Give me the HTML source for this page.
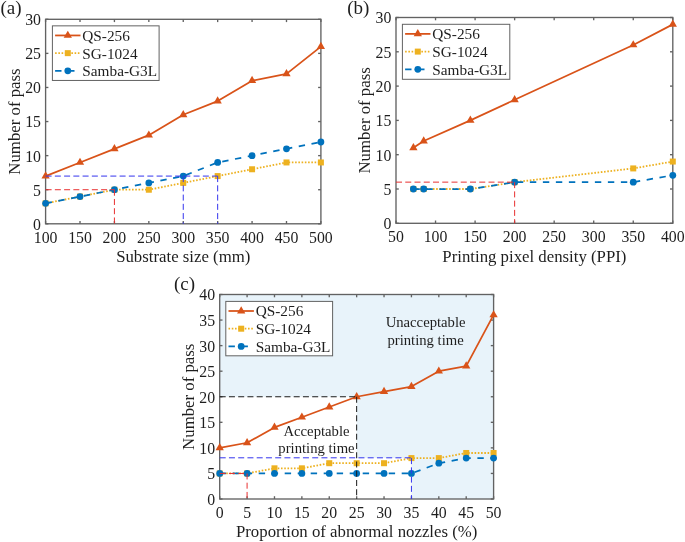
<!DOCTYPE html>
<html><head><meta charset="utf-8"><style>
html,body{margin:0;padding:0;background:#fff;}
body{width:685px;height:542px;overflow:hidden;}
svg{display:block;will-change:transform;}
text{font-family:'Liberation Serif', serif;fill:#1e1e1e;}
</style></head><body>
<svg width="685" height="542" viewBox="0 0 685 542">
<path d="M219.70 294.50 L493.60 294.50 L493.60 499.00 L411.43 499.00 L411.43 458.10 L356.65 458.10 L356.65 396.75 L219.70 396.75Z" fill="#E8F3FA"/>
<rect x="45.60" y="19.30" width="275.30" height="204.50" fill="none" stroke="#626262" stroke-width="1.35"/>
<line x1="45.60" y1="223.80" x2="45.60" y2="221.00" stroke="#626262" stroke-width="1.35"/>
<line x1="45.60" y1="19.30" x2="45.60" y2="22.10" stroke="#626262" stroke-width="1.35"/>
<line x1="80.01" y1="223.80" x2="80.01" y2="221.00" stroke="#626262" stroke-width="1.35"/>
<line x1="80.01" y1="19.30" x2="80.01" y2="22.10" stroke="#626262" stroke-width="1.35"/>
<line x1="114.42" y1="223.80" x2="114.42" y2="221.00" stroke="#626262" stroke-width="1.35"/>
<line x1="114.42" y1="19.30" x2="114.42" y2="22.10" stroke="#626262" stroke-width="1.35"/>
<line x1="148.84" y1="223.80" x2="148.84" y2="221.00" stroke="#626262" stroke-width="1.35"/>
<line x1="148.84" y1="19.30" x2="148.84" y2="22.10" stroke="#626262" stroke-width="1.35"/>
<line x1="183.25" y1="223.80" x2="183.25" y2="221.00" stroke="#626262" stroke-width="1.35"/>
<line x1="183.25" y1="19.30" x2="183.25" y2="22.10" stroke="#626262" stroke-width="1.35"/>
<line x1="217.66" y1="223.80" x2="217.66" y2="221.00" stroke="#626262" stroke-width="1.35"/>
<line x1="217.66" y1="19.30" x2="217.66" y2="22.10" stroke="#626262" stroke-width="1.35"/>
<line x1="252.07" y1="223.80" x2="252.07" y2="221.00" stroke="#626262" stroke-width="1.35"/>
<line x1="252.07" y1="19.30" x2="252.07" y2="22.10" stroke="#626262" stroke-width="1.35"/>
<line x1="286.49" y1="223.80" x2="286.49" y2="221.00" stroke="#626262" stroke-width="1.35"/>
<line x1="286.49" y1="19.30" x2="286.49" y2="22.10" stroke="#626262" stroke-width="1.35"/>
<line x1="320.90" y1="223.80" x2="320.90" y2="221.00" stroke="#626262" stroke-width="1.35"/>
<line x1="320.90" y1="19.30" x2="320.90" y2="22.10" stroke="#626262" stroke-width="1.35"/>
<line x1="45.60" y1="223.80" x2="48.40" y2="223.80" stroke="#626262" stroke-width="1.35"/>
<line x1="320.90" y1="223.80" x2="318.10" y2="223.80" stroke="#626262" stroke-width="1.35"/>
<line x1="45.60" y1="189.72" x2="48.40" y2="189.72" stroke="#626262" stroke-width="1.35"/>
<line x1="320.90" y1="189.72" x2="318.10" y2="189.72" stroke="#626262" stroke-width="1.35"/>
<line x1="45.60" y1="155.63" x2="48.40" y2="155.63" stroke="#626262" stroke-width="1.35"/>
<line x1="320.90" y1="155.63" x2="318.10" y2="155.63" stroke="#626262" stroke-width="1.35"/>
<line x1="45.60" y1="121.55" x2="48.40" y2="121.55" stroke="#626262" stroke-width="1.35"/>
<line x1="320.90" y1="121.55" x2="318.10" y2="121.55" stroke="#626262" stroke-width="1.35"/>
<line x1="45.60" y1="87.47" x2="48.40" y2="87.47" stroke="#626262" stroke-width="1.35"/>
<line x1="320.90" y1="87.47" x2="318.10" y2="87.47" stroke="#626262" stroke-width="1.35"/>
<line x1="45.60" y1="53.38" x2="48.40" y2="53.38" stroke="#626262" stroke-width="1.35"/>
<line x1="320.90" y1="53.38" x2="318.10" y2="53.38" stroke="#626262" stroke-width="1.35"/>
<line x1="45.60" y1="19.30" x2="48.40" y2="19.30" stroke="#626262" stroke-width="1.35"/>
<line x1="320.90" y1="19.30" x2="318.10" y2="19.30" stroke="#626262" stroke-width="1.35"/>
<text x="45.60" y="242.80" font-size="15.8" text-anchor="middle">100</text>
<text x="80.01" y="242.80" font-size="15.8" text-anchor="middle">150</text>
<text x="114.42" y="242.80" font-size="15.8" text-anchor="middle">200</text>
<text x="148.84" y="242.80" font-size="15.8" text-anchor="middle">250</text>
<text x="183.25" y="242.80" font-size="15.8" text-anchor="middle">300</text>
<text x="217.66" y="242.80" font-size="15.8" text-anchor="middle">350</text>
<text x="252.07" y="242.80" font-size="15.8" text-anchor="middle">400</text>
<text x="286.49" y="242.80" font-size="15.8" text-anchor="middle">450</text>
<text x="320.90" y="242.80" font-size="15.8" text-anchor="middle">500</text>
<text x="41.00" y="229.70" font-size="15.8" text-anchor="end">0</text>
<text x="41.00" y="195.62" font-size="15.8" text-anchor="end">5</text>
<text x="41.00" y="161.53" font-size="15.8" text-anchor="end">10</text>
<text x="41.00" y="127.45" font-size="15.8" text-anchor="end">15</text>
<text x="41.00" y="93.37" font-size="15.8" text-anchor="end">20</text>
<text x="41.00" y="59.28" font-size="15.8" text-anchor="end">25</text>
<text x="41.00" y="25.20" font-size="15.8" text-anchor="end">30</text>
<rect x="396.00" y="17.50" width="276.80" height="205.80" fill="none" stroke="#626262" stroke-width="1.35"/>
<line x1="396.00" y1="223.30" x2="396.00" y2="220.50" stroke="#626262" stroke-width="1.35"/>
<line x1="396.00" y1="17.50" x2="396.00" y2="20.30" stroke="#626262" stroke-width="1.35"/>
<line x1="435.54" y1="223.30" x2="435.54" y2="220.50" stroke="#626262" stroke-width="1.35"/>
<line x1="435.54" y1="17.50" x2="435.54" y2="20.30" stroke="#626262" stroke-width="1.35"/>
<line x1="475.09" y1="223.30" x2="475.09" y2="220.50" stroke="#626262" stroke-width="1.35"/>
<line x1="475.09" y1="17.50" x2="475.09" y2="20.30" stroke="#626262" stroke-width="1.35"/>
<line x1="514.63" y1="223.30" x2="514.63" y2="220.50" stroke="#626262" stroke-width="1.35"/>
<line x1="514.63" y1="17.50" x2="514.63" y2="20.30" stroke="#626262" stroke-width="1.35"/>
<line x1="554.17" y1="223.30" x2="554.17" y2="220.50" stroke="#626262" stroke-width="1.35"/>
<line x1="554.17" y1="17.50" x2="554.17" y2="20.30" stroke="#626262" stroke-width="1.35"/>
<line x1="593.71" y1="223.30" x2="593.71" y2="220.50" stroke="#626262" stroke-width="1.35"/>
<line x1="593.71" y1="17.50" x2="593.71" y2="20.30" stroke="#626262" stroke-width="1.35"/>
<line x1="633.26" y1="223.30" x2="633.26" y2="220.50" stroke="#626262" stroke-width="1.35"/>
<line x1="633.26" y1="17.50" x2="633.26" y2="20.30" stroke="#626262" stroke-width="1.35"/>
<line x1="672.80" y1="223.30" x2="672.80" y2="220.50" stroke="#626262" stroke-width="1.35"/>
<line x1="672.80" y1="17.50" x2="672.80" y2="20.30" stroke="#626262" stroke-width="1.35"/>
<line x1="396.00" y1="223.30" x2="398.80" y2="223.30" stroke="#626262" stroke-width="1.35"/>
<line x1="672.80" y1="223.30" x2="670.00" y2="223.30" stroke="#626262" stroke-width="1.35"/>
<line x1="396.00" y1="189.00" x2="398.80" y2="189.00" stroke="#626262" stroke-width="1.35"/>
<line x1="672.80" y1="189.00" x2="670.00" y2="189.00" stroke="#626262" stroke-width="1.35"/>
<line x1="396.00" y1="154.70" x2="398.80" y2="154.70" stroke="#626262" stroke-width="1.35"/>
<line x1="672.80" y1="154.70" x2="670.00" y2="154.70" stroke="#626262" stroke-width="1.35"/>
<line x1="396.00" y1="120.40" x2="398.80" y2="120.40" stroke="#626262" stroke-width="1.35"/>
<line x1="672.80" y1="120.40" x2="670.00" y2="120.40" stroke="#626262" stroke-width="1.35"/>
<line x1="396.00" y1="86.10" x2="398.80" y2="86.10" stroke="#626262" stroke-width="1.35"/>
<line x1="672.80" y1="86.10" x2="670.00" y2="86.10" stroke="#626262" stroke-width="1.35"/>
<line x1="396.00" y1="51.80" x2="398.80" y2="51.80" stroke="#626262" stroke-width="1.35"/>
<line x1="672.80" y1="51.80" x2="670.00" y2="51.80" stroke="#626262" stroke-width="1.35"/>
<line x1="396.00" y1="17.50" x2="398.80" y2="17.50" stroke="#626262" stroke-width="1.35"/>
<line x1="672.80" y1="17.50" x2="670.00" y2="17.50" stroke="#626262" stroke-width="1.35"/>
<text x="396.00" y="242.30" font-size="15.8" text-anchor="middle">50</text>
<text x="435.54" y="242.30" font-size="15.8" text-anchor="middle">100</text>
<text x="475.09" y="242.30" font-size="15.8" text-anchor="middle">150</text>
<text x="514.63" y="242.30" font-size="15.8" text-anchor="middle">200</text>
<text x="554.17" y="242.30" font-size="15.8" text-anchor="middle">250</text>
<text x="593.71" y="242.30" font-size="15.8" text-anchor="middle">300</text>
<text x="633.26" y="242.30" font-size="15.8" text-anchor="middle">350</text>
<text x="672.80" y="242.30" font-size="15.8" text-anchor="middle">400</text>
<text x="391.40" y="229.20" font-size="15.8" text-anchor="end">0</text>
<text x="391.40" y="194.90" font-size="15.8" text-anchor="end">5</text>
<text x="391.40" y="160.60" font-size="15.8" text-anchor="end">10</text>
<text x="391.40" y="126.30" font-size="15.8" text-anchor="end">15</text>
<text x="391.40" y="92.00" font-size="15.8" text-anchor="end">20</text>
<text x="391.40" y="57.70" font-size="15.8" text-anchor="end">25</text>
<text x="391.40" y="23.40" font-size="15.8" text-anchor="end">30</text>
<rect x="219.70" y="294.50" width="273.90" height="204.50" fill="none" stroke="#626262" stroke-width="1.35"/>
<line x1="219.70" y1="499.00" x2="219.70" y2="496.20" stroke="#626262" stroke-width="1.35"/>
<line x1="219.70" y1="294.50" x2="219.70" y2="297.30" stroke="#626262" stroke-width="1.35"/>
<line x1="247.09" y1="499.00" x2="247.09" y2="496.20" stroke="#626262" stroke-width="1.35"/>
<line x1="247.09" y1="294.50" x2="247.09" y2="297.30" stroke="#626262" stroke-width="1.35"/>
<line x1="274.48" y1="499.00" x2="274.48" y2="496.20" stroke="#626262" stroke-width="1.35"/>
<line x1="274.48" y1="294.50" x2="274.48" y2="297.30" stroke="#626262" stroke-width="1.35"/>
<line x1="301.87" y1="499.00" x2="301.87" y2="496.20" stroke="#626262" stroke-width="1.35"/>
<line x1="301.87" y1="294.50" x2="301.87" y2="297.30" stroke="#626262" stroke-width="1.35"/>
<line x1="329.26" y1="499.00" x2="329.26" y2="496.20" stroke="#626262" stroke-width="1.35"/>
<line x1="329.26" y1="294.50" x2="329.26" y2="297.30" stroke="#626262" stroke-width="1.35"/>
<line x1="356.65" y1="499.00" x2="356.65" y2="496.20" stroke="#626262" stroke-width="1.35"/>
<line x1="356.65" y1="294.50" x2="356.65" y2="297.30" stroke="#626262" stroke-width="1.35"/>
<line x1="384.04" y1="499.00" x2="384.04" y2="496.20" stroke="#626262" stroke-width="1.35"/>
<line x1="384.04" y1="294.50" x2="384.04" y2="297.30" stroke="#626262" stroke-width="1.35"/>
<line x1="411.43" y1="499.00" x2="411.43" y2="496.20" stroke="#626262" stroke-width="1.35"/>
<line x1="411.43" y1="294.50" x2="411.43" y2="297.30" stroke="#626262" stroke-width="1.35"/>
<line x1="438.82" y1="499.00" x2="438.82" y2="496.20" stroke="#626262" stroke-width="1.35"/>
<line x1="438.82" y1="294.50" x2="438.82" y2="297.30" stroke="#626262" stroke-width="1.35"/>
<line x1="466.21" y1="499.00" x2="466.21" y2="496.20" stroke="#626262" stroke-width="1.35"/>
<line x1="466.21" y1="294.50" x2="466.21" y2="297.30" stroke="#626262" stroke-width="1.35"/>
<line x1="493.60" y1="499.00" x2="493.60" y2="496.20" stroke="#626262" stroke-width="1.35"/>
<line x1="493.60" y1="294.50" x2="493.60" y2="297.30" stroke="#626262" stroke-width="1.35"/>
<line x1="219.70" y1="499.00" x2="222.50" y2="499.00" stroke="#626262" stroke-width="1.35"/>
<line x1="493.60" y1="499.00" x2="490.80" y2="499.00" stroke="#626262" stroke-width="1.35"/>
<line x1="219.70" y1="473.44" x2="222.50" y2="473.44" stroke="#626262" stroke-width="1.35"/>
<line x1="493.60" y1="473.44" x2="490.80" y2="473.44" stroke="#626262" stroke-width="1.35"/>
<line x1="219.70" y1="447.88" x2="222.50" y2="447.88" stroke="#626262" stroke-width="1.35"/>
<line x1="493.60" y1="447.88" x2="490.80" y2="447.88" stroke="#626262" stroke-width="1.35"/>
<line x1="219.70" y1="422.31" x2="222.50" y2="422.31" stroke="#626262" stroke-width="1.35"/>
<line x1="493.60" y1="422.31" x2="490.80" y2="422.31" stroke="#626262" stroke-width="1.35"/>
<line x1="219.70" y1="396.75" x2="222.50" y2="396.75" stroke="#626262" stroke-width="1.35"/>
<line x1="493.60" y1="396.75" x2="490.80" y2="396.75" stroke="#626262" stroke-width="1.35"/>
<line x1="219.70" y1="371.19" x2="222.50" y2="371.19" stroke="#626262" stroke-width="1.35"/>
<line x1="493.60" y1="371.19" x2="490.80" y2="371.19" stroke="#626262" stroke-width="1.35"/>
<line x1="219.70" y1="345.62" x2="222.50" y2="345.62" stroke="#626262" stroke-width="1.35"/>
<line x1="493.60" y1="345.62" x2="490.80" y2="345.62" stroke="#626262" stroke-width="1.35"/>
<line x1="219.70" y1="320.06" x2="222.50" y2="320.06" stroke="#626262" stroke-width="1.35"/>
<line x1="493.60" y1="320.06" x2="490.80" y2="320.06" stroke="#626262" stroke-width="1.35"/>
<line x1="219.70" y1="294.50" x2="222.50" y2="294.50" stroke="#626262" stroke-width="1.35"/>
<line x1="493.60" y1="294.50" x2="490.80" y2="294.50" stroke="#626262" stroke-width="1.35"/>
<text x="219.70" y="518.00" font-size="15.8" text-anchor="middle">0</text>
<text x="247.09" y="518.00" font-size="15.8" text-anchor="middle">5</text>
<text x="274.48" y="518.00" font-size="15.8" text-anchor="middle">10</text>
<text x="301.87" y="518.00" font-size="15.8" text-anchor="middle">15</text>
<text x="329.26" y="518.00" font-size="15.8" text-anchor="middle">20</text>
<text x="356.65" y="518.00" font-size="15.8" text-anchor="middle">25</text>
<text x="384.04" y="518.00" font-size="15.8" text-anchor="middle">30</text>
<text x="411.43" y="518.00" font-size="15.8" text-anchor="middle">35</text>
<text x="438.82" y="518.00" font-size="15.8" text-anchor="middle">40</text>
<text x="466.21" y="518.00" font-size="15.8" text-anchor="middle">45</text>
<text x="493.60" y="518.00" font-size="15.8" text-anchor="middle">50</text>
<text x="215.10" y="504.90" font-size="15.8" text-anchor="end">0</text>
<text x="215.10" y="479.34" font-size="15.8" text-anchor="end">5</text>
<text x="215.10" y="453.77" font-size="15.8" text-anchor="end">10</text>
<text x="215.10" y="428.21" font-size="15.8" text-anchor="end">15</text>
<text x="215.10" y="402.65" font-size="15.8" text-anchor="end">20</text>
<text x="215.10" y="377.09" font-size="15.8" text-anchor="end">25</text>
<text x="215.10" y="351.52" font-size="15.8" text-anchor="end">30</text>
<text x="215.10" y="325.96" font-size="15.8" text-anchor="end">35</text>
<text x="215.10" y="300.40" font-size="15.8" text-anchor="end">40</text>
<polyline points="45.60,203.35 80.01,196.53 114.42,189.72 148.84,189.72 183.25,182.90 217.66,176.08 252.07,169.27 286.49,162.45 320.90,162.45" fill="none" stroke="#EDB120" stroke-width="1.8" stroke-linecap="butt" stroke-linejoin="round" stroke-dasharray="1.6 1.65"/>
<rect x="42.60" y="200.35" width="6.00" height="6.00" fill="#EDB120"/>
<rect x="77.01" y="193.53" width="6.00" height="6.00" fill="#EDB120"/>
<rect x="111.42" y="186.72" width="6.00" height="6.00" fill="#EDB120"/>
<rect x="145.84" y="186.72" width="6.00" height="6.00" fill="#EDB120"/>
<rect x="180.25" y="179.90" width="6.00" height="6.00" fill="#EDB120"/>
<rect x="214.66" y="173.08" width="6.00" height="6.00" fill="#EDB120"/>
<rect x="249.07" y="166.27" width="6.00" height="6.00" fill="#EDB120"/>
<rect x="283.49" y="159.45" width="6.00" height="6.00" fill="#EDB120"/>
<rect x="317.90" y="159.45" width="6.00" height="6.00" fill="#EDB120"/>
<polyline points="45.60,203.35 80.01,196.53 114.42,189.72 148.84,182.90 183.25,176.08 217.66,162.45 252.07,155.63 286.49,148.82 320.90,142.00" fill="none" stroke="#0072BD" stroke-width="1.75" stroke-linecap="butt" stroke-linejoin="round" stroke-dasharray="6.4 6.6"/>
<circle cx="45.60" cy="203.35" r="3.4" fill="#0072BD"/>
<circle cx="80.01" cy="196.53" r="3.4" fill="#0072BD"/>
<circle cx="114.42" cy="189.72" r="3.4" fill="#0072BD"/>
<circle cx="148.84" cy="182.90" r="3.4" fill="#0072BD"/>
<circle cx="183.25" cy="176.08" r="3.4" fill="#0072BD"/>
<circle cx="217.66" cy="162.45" r="3.4" fill="#0072BD"/>
<circle cx="252.07" cy="155.63" r="3.4" fill="#0072BD"/>
<circle cx="286.49" cy="148.82" r="3.4" fill="#0072BD"/>
<circle cx="320.90" cy="142.00" r="3.4" fill="#0072BD"/>
<polyline points="45.60,176.08 80.01,162.45 114.42,148.82 148.84,135.18 183.25,114.73 217.66,101.10 252.07,80.65 286.49,73.83 320.90,46.57" fill="none" stroke="#D95319" stroke-width="1.75" stroke-linecap="butt" stroke-linejoin="round"/>
<path d="M45.60 171.28L49.75 178.48L41.45 178.48Z" fill="#D95319"/>
<path d="M80.01 157.65L84.16 164.85L75.86 164.85Z" fill="#D95319"/>
<path d="M114.42 144.02L118.57 151.22L110.27 151.22Z" fill="#D95319"/>
<path d="M148.84 130.38L152.99 137.58L144.69 137.58Z" fill="#D95319"/>
<path d="M183.25 109.93L187.40 117.13L179.10 117.13Z" fill="#D95319"/>
<path d="M217.66 96.30L221.81 103.50L213.51 103.50Z" fill="#D95319"/>
<path d="M252.07 75.85L256.22 83.05L247.92 83.05Z" fill="#D95319"/>
<path d="M286.49 69.03L290.64 76.23L282.34 76.23Z" fill="#D95319"/>
<path d="M320.90 41.77L325.05 48.97L316.75 48.97Z" fill="#D95319"/>
<polyline points="413.40,189.00 423.68,189.00 470.34,189.00 514.63,182.14 633.26,168.42 672.80,161.56" fill="none" stroke="#EDB120" stroke-width="1.8" stroke-linecap="butt" stroke-linejoin="round" stroke-dasharray="1.6 1.65"/>
<rect x="410.40" y="186.00" width="6.00" height="6.00" fill="#EDB120"/>
<rect x="420.68" y="186.00" width="6.00" height="6.00" fill="#EDB120"/>
<rect x="467.34" y="186.00" width="6.00" height="6.00" fill="#EDB120"/>
<rect x="511.63" y="179.14" width="6.00" height="6.00" fill="#EDB120"/>
<rect x="630.26" y="165.42" width="6.00" height="6.00" fill="#EDB120"/>
<rect x="669.80" y="158.56" width="6.00" height="6.00" fill="#EDB120"/>
<polyline points="413.40,189.00 423.68,189.00 470.34,189.00 514.63,182.14 633.26,182.14 672.80,175.28" fill="none" stroke="#0072BD" stroke-width="1.75" stroke-linecap="butt" stroke-linejoin="round" stroke-dasharray="6.4 6.6"/>
<circle cx="413.40" cy="189.00" r="3.4" fill="#0072BD"/>
<circle cx="423.68" cy="189.00" r="3.4" fill="#0072BD"/>
<circle cx="470.34" cy="189.00" r="3.4" fill="#0072BD"/>
<circle cx="514.63" cy="182.14" r="3.4" fill="#0072BD"/>
<circle cx="633.26" cy="182.14" r="3.4" fill="#0072BD"/>
<circle cx="672.80" cy="175.28" r="3.4" fill="#0072BD"/>
<polyline points="413.40,147.84 423.68,140.98 470.34,120.40 514.63,99.82 633.26,44.94 672.80,24.36" fill="none" stroke="#D95319" stroke-width="1.75" stroke-linecap="butt" stroke-linejoin="round"/>
<path d="M413.40 143.04L417.55 150.24L409.25 150.24Z" fill="#D95319"/>
<path d="M423.68 136.18L427.83 143.38L419.53 143.38Z" fill="#D95319"/>
<path d="M470.34 115.60L474.49 122.80L466.19 122.80Z" fill="#D95319"/>
<path d="M514.63 95.02L518.78 102.22L510.48 102.22Z" fill="#D95319"/>
<path d="M633.26 40.14L637.41 47.34L629.11 47.34Z" fill="#D95319"/>
<path d="M672.80 19.56L676.95 26.76L668.65 26.76Z" fill="#D95319"/>
<polyline points="219.70,473.44 247.09,473.44 274.48,468.32 301.87,468.32 329.26,463.21 356.65,463.21 384.04,463.21 411.43,458.10 438.82,458.10 466.21,452.99 493.60,452.99" fill="none" stroke="#EDB120" stroke-width="1.8" stroke-linecap="butt" stroke-linejoin="round" stroke-dasharray="1.6 1.65"/>
<rect x="216.70" y="470.44" width="6.00" height="6.00" fill="#EDB120"/>
<rect x="244.09" y="470.44" width="6.00" height="6.00" fill="#EDB120"/>
<rect x="271.48" y="465.32" width="6.00" height="6.00" fill="#EDB120"/>
<rect x="298.87" y="465.32" width="6.00" height="6.00" fill="#EDB120"/>
<rect x="326.26" y="460.21" width="6.00" height="6.00" fill="#EDB120"/>
<rect x="353.65" y="460.21" width="6.00" height="6.00" fill="#EDB120"/>
<rect x="381.04" y="460.21" width="6.00" height="6.00" fill="#EDB120"/>
<rect x="408.43" y="455.10" width="6.00" height="6.00" fill="#EDB120"/>
<rect x="435.82" y="455.10" width="6.00" height="6.00" fill="#EDB120"/>
<rect x="463.21" y="449.99" width="6.00" height="6.00" fill="#EDB120"/>
<rect x="490.60" y="449.99" width="6.00" height="6.00" fill="#EDB120"/>
<polyline points="219.70,473.44 247.09,473.44 274.48,473.44 301.87,473.44 329.26,473.44 356.65,473.44 384.04,473.44 411.43,473.44 438.82,463.21 466.21,458.10 493.60,458.10" fill="none" stroke="#0072BD" stroke-width="1.75" stroke-linecap="butt" stroke-linejoin="round" stroke-dasharray="6.4 6.6"/>
<circle cx="219.70" cy="473.44" r="3.4" fill="#0072BD"/>
<circle cx="247.09" cy="473.44" r="3.4" fill="#0072BD"/>
<circle cx="274.48" cy="473.44" r="3.4" fill="#0072BD"/>
<circle cx="301.87" cy="473.44" r="3.4" fill="#0072BD"/>
<circle cx="329.26" cy="473.44" r="3.4" fill="#0072BD"/>
<circle cx="356.65" cy="473.44" r="3.4" fill="#0072BD"/>
<circle cx="384.04" cy="473.44" r="3.4" fill="#0072BD"/>
<circle cx="411.43" cy="473.44" r="3.4" fill="#0072BD"/>
<circle cx="438.82" cy="463.21" r="3.4" fill="#0072BD"/>
<circle cx="466.21" cy="458.10" r="3.4" fill="#0072BD"/>
<circle cx="493.60" cy="458.10" r="3.4" fill="#0072BD"/>
<polyline points="219.70,447.88 247.09,442.76 274.48,427.43 301.87,417.20 329.26,406.98 356.65,396.75 384.04,391.64 411.43,386.52 438.82,371.19 466.21,366.07 493.60,314.95" fill="none" stroke="#D95319" stroke-width="1.75" stroke-linecap="butt" stroke-linejoin="round"/>
<path d="M219.70 443.07L223.85 450.27L215.55 450.27Z" fill="#D95319"/>
<path d="M247.09 437.96L251.24 445.16L242.94 445.16Z" fill="#D95319"/>
<path d="M274.48 422.62L278.63 429.82L270.33 429.82Z" fill="#D95319"/>
<path d="M301.87 412.40L306.02 419.60L297.72 419.60Z" fill="#D95319"/>
<path d="M329.26 402.18L333.41 409.38L325.11 409.38Z" fill="#D95319"/>
<path d="M356.65 391.95L360.80 399.15L352.50 399.15Z" fill="#D95319"/>
<path d="M384.04 386.84L388.19 394.04L379.89 394.04Z" fill="#D95319"/>
<path d="M411.43 381.72L415.58 388.92L407.28 388.92Z" fill="#D95319"/>
<path d="M438.82 366.39L442.97 373.59L434.67 373.59Z" fill="#D95319"/>
<path d="M466.21 361.27L470.36 368.47L462.06 368.47Z" fill="#D95319"/>
<path d="M493.60 310.15L497.75 317.35L489.45 317.35Z" fill="#D95319"/>
<line x1="45.60" y1="189.72" x2="114.42" y2="189.72" stroke="#E83030" stroke-width="1.0" stroke-dasharray="6 3.25"/>
<line x1="114.42" y1="189.72" x2="114.42" y2="223.80" stroke="#E83030" stroke-width="1.0" stroke-dasharray="6 3.25"/>
<line x1="45.60" y1="176.08" x2="217.66" y2="176.08" stroke="#3434EE" stroke-width="1.0" stroke-dasharray="6 3.25"/>
<line x1="183.25" y1="176.08" x2="183.25" y2="223.80" stroke="#3434EE" stroke-width="1.0" stroke-dasharray="6 3.25"/>
<line x1="217.66" y1="176.08" x2="217.66" y2="223.80" stroke="#3434EE" stroke-width="1.0" stroke-dasharray="6 3.25"/>
<line x1="396.00" y1="182.14" x2="514.63" y2="182.14" stroke="#E83030" stroke-width="1.0" stroke-dasharray="6 3.25"/>
<line x1="514.63" y1="182.14" x2="514.63" y2="223.30" stroke="#E83030" stroke-width="1.0" stroke-dasharray="6 3.25"/>
<line x1="219.70" y1="396.75" x2="356.65" y2="396.75" stroke="#1a1a1a" stroke-width="1.0" stroke-dasharray="6 3.25"/>
<line x1="356.65" y1="396.75" x2="356.65" y2="499.00" stroke="#1a1a1a" stroke-width="1.0" stroke-dasharray="6 3.25"/>
<line x1="219.70" y1="457.80" x2="411.43" y2="457.80" stroke="#3434EE" stroke-width="1.0" stroke-dasharray="6 3.25"/>
<line x1="411.43" y1="458.10" x2="411.43" y2="499.00" stroke="#3434EE" stroke-width="1.0" stroke-dasharray="6 3.25"/>
<line x1="219.70" y1="473.44" x2="247.09" y2="473.44" stroke="#E83030" stroke-width="1.0" stroke-dasharray="6 3.25"/>
<line x1="247.09" y1="473.44" x2="247.09" y2="499.00" stroke="#E83030" stroke-width="1.0" stroke-dasharray="6 3.25"/>
<rect x="52.40" y="25.85" width="106.70" height="54.60" fill="#fff" stroke="#626262" stroke-width="1"/>
<line x1="55.10" y1="35.45" x2="80.50" y2="35.45" stroke="#D95319" stroke-width="1.75"/>
<path d="M67.80 30.65L71.95 37.85L63.65 37.85Z" fill="#D95319"/>
<text x="82.30" y="40.85" font-size="15.3">QS-256</text>
<line x1="55.10" y1="53.15" x2="80.50" y2="53.15" stroke="#EDB120" stroke-width="1.8" stroke-dasharray="1.6 1.65"/>
<rect x="64.80" y="50.15" width="6.00" height="6.00" fill="#EDB120"/>
<text x="82.30" y="58.55" font-size="15.3">SG-1024</text>
<line x1="55.10" y1="70.85" x2="80.50" y2="70.85" stroke="#0072BD" stroke-width="1.75" stroke-dasharray="6.4 6.6"/>
<circle cx="67.80" cy="70.85" r="3.4" fill="#0072BD"/>
<text x="82.30" y="76.25" font-size="15.3">Samba-G3L</text>
<rect x="402.40" y="24.30" width="107.40" height="55.00" fill="#fff" stroke="#626262" stroke-width="1"/>
<line x1="405.10" y1="33.90" x2="430.50" y2="33.90" stroke="#D95319" stroke-width="1.75"/>
<path d="M417.80 29.10L421.95 36.30L413.65 36.30Z" fill="#D95319"/>
<text x="432.30" y="39.30" font-size="15.3">QS-256</text>
<line x1="405.10" y1="51.60" x2="430.50" y2="51.60" stroke="#EDB120" stroke-width="1.8" stroke-dasharray="1.6 1.65"/>
<rect x="414.80" y="48.60" width="6.00" height="6.00" fill="#EDB120"/>
<text x="432.30" y="57.00" font-size="15.3">SG-1024</text>
<line x1="405.10" y1="69.30" x2="430.50" y2="69.30" stroke="#0072BD" stroke-width="1.75" stroke-dasharray="6.4 6.6"/>
<circle cx="417.80" cy="69.30" r="3.4" fill="#0072BD"/>
<text x="432.30" y="74.70" font-size="15.3">Samba-G3L</text>
<rect x="225.80" y="301.40" width="106.80" height="54.40" fill="#fff" stroke="#626262" stroke-width="1"/>
<line x1="228.50" y1="311.00" x2="253.90" y2="311.00" stroke="#D95319" stroke-width="1.75"/>
<path d="M241.20 306.20L245.35 313.40L237.05 313.40Z" fill="#D95319"/>
<text x="255.70" y="316.40" font-size="15.3">QS-256</text>
<line x1="228.50" y1="328.70" x2="253.90" y2="328.70" stroke="#EDB120" stroke-width="1.8" stroke-dasharray="1.6 1.65"/>
<rect x="238.20" y="325.70" width="6.00" height="6.00" fill="#EDB120"/>
<text x="255.70" y="334.10" font-size="15.3">SG-1024</text>
<line x1="228.50" y1="346.40" x2="253.90" y2="346.40" stroke="#0072BD" stroke-width="1.75" stroke-dasharray="6.4 6.6"/>
<circle cx="241.20" cy="346.40" r="3.4" fill="#0072BD"/>
<text x="255.70" y="351.80" font-size="15.3">Samba-G3L</text>
<text x="183.25" y="261.90" font-size="16.8" text-anchor="middle">Substrate size (mm)</text>
<text x="534.40" y="261.90" font-size="16.8" text-anchor="middle">Printing pixel density (PPI)</text>
<text x="356.65" y="537.00" font-size="16.8" text-anchor="middle">Proportion of abnormal nozzles (%)</text>
<text transform="translate(20.00 121.55) rotate(-90)" font-size="16.8" text-anchor="middle">Number of pass</text>
<text transform="translate(370.00 120.40) rotate(-90)" font-size="16.8" text-anchor="middle">Number of pass</text>
<text transform="translate(194.00 396.75) rotate(-90)" font-size="16.8" text-anchor="middle">Number of pass</text>
<text x="0.5" y="14.1" font-size="19">(a)</text>
<text x="347.2" y="14.1" font-size="19">(b)</text>
<text x="174" y="290" font-size="19">(c)</text>
<text x="316.5" y="436.4" font-size="14.7" text-anchor="middle">Acceptable</text>
<text x="316.5" y="453.0" font-size="14.7" text-anchor="middle">printing time</text>
<text x="425.6" y="327.2" font-size="14.7" text-anchor="middle">Unacceptable</text>
<text x="425.6" y="344.6" font-size="14.7" text-anchor="middle">printing time</text>
</svg>
</body></html>
